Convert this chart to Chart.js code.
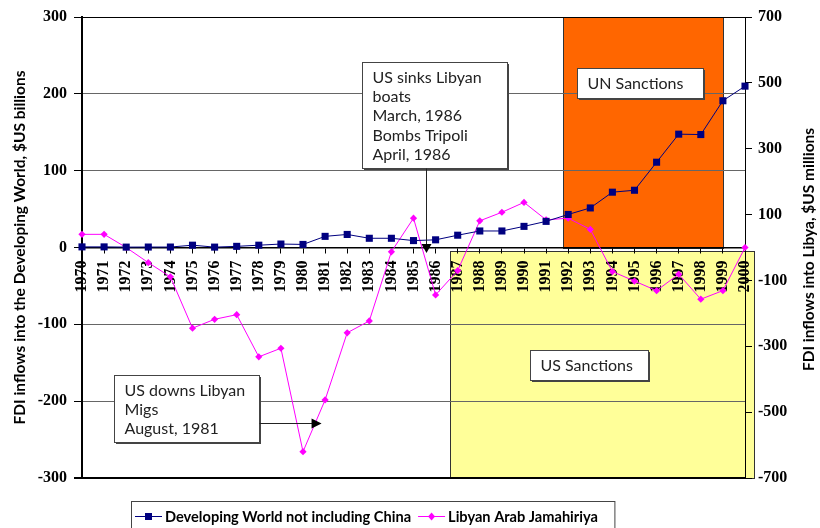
<!DOCTYPE html>
<html>
<head>
<meta charset="utf-8">
<title>FDI inflows: Developing World and Libya</title>
<script src="https://cdn.jsdelivr.net/npm/chart.js@4.4.1/dist/chart.umd.min.js"></script>
<style>
  html, body { margin: 0; padding: 0; background: #fff; }
  #wrap { width: 820px; height: 528px; }
</style>
</head>
<body>
<div id="wrap"><canvas id="fdiChart" width="820" height="528"></canvas></div>
<script>
const years = ['1970', '1971', '1972', '1973', '1974', '1975', '1976', '1977', '1978', '1979',
  '1980', '1981', '1982', '1983', '1984', '1985', '1986', '1987', '1988', '1989',
  '1990', '1991', '1992', '1993', '1994', '1995', '1996', '1997', '1998', '1999', '2000'];

// $US billions (left axis)
const developingWorld = [0.8, 0.8, 0.5, 0.6, 0.6, 3, 0.5, 1.5, 3, 4.5,
  4, 14.5, 17, 12, 12, 9, 10, 16, 21.5, 21.5,
  27.5, 34, 43, 51.5, 72, 74.5, 111, 147.5, 147, 191, 210];

// $US millions (right axis)
const libya = [40, 40, 0, -46, -89, -245, -218, -204, -332, -306,
  -620, -463, -259, -223, -13, 89, -144, -70, 81, 107,
  137, 84, 89, 55, -73, -102, -131, -81, -157, -131, 0];

const leftRange = [-300, 300, 100];
const rightRange = [-700, 700, 200];

// shaded periods, in years and left-axis units
const sanctionSpans = [
  { from: 1991.75, to: 1999, top: 300, bottom: 0, fill: '#FF6600' },
  { from: 1986.66, to: 2000.4, top: -4, bottom: -300, fill: '#FFFF99' }
];

// text boxes: corners in years / left-axis units
const labelBoxes = [
  { lines: ['UN Sanctions'], x1: 1992.4, x2: 1998.1, y1: 233, y2: 194 },
  { lines: ['US Sanctions'], x1: 1990.28, x2: 1995.6, y1: -134, y2: -172 },
  { lines: ['US sinks Libyan', 'boats', 'March, 1986', 'Bombs Tripoli', 'April, 1986'],
    x1: 1982.69, x2: 1989.23, y1: 241.6, y2: 103.2,
    arrow: { dir: 'down', x: 1985.56, to: -7 } },
  { lines: ['US downs Libyan', 'Migs', 'August, 1981'],
    x1: 1971.43, x2: 1978.0, y1: -165.3, y2: -253.4,
    arrow: { dir: 'right', y: -227.8, to: 1980.84 } }
];

const navy = '#000080';
const magenta = '#FF00FF';
const textFont = 'Lato, "Open Sans", sans-serif';
const tickFont = { family: '"Liberation Serif", serif', size: 16, weight: 'bold' };

const firstYear = Number(years[0]);

const notesPlugin = {
  id: 'notes',
  beforeDraw(chart) {
    const { ctx, scales: { x, y } } = chart;
    ctx.save();
    ctx.fillStyle = '#fff';
    ctx.fillRect(0, 0, chart.width, chart.height);
    sanctionSpans.forEach(s => {
      const x1 = Math.round(x.getPixelForValue(s.from - firstYear)) + 0.5;
      const x2 = Math.round(x.getPixelForValue(s.to - firstYear)) + 0.5;
      const y1 = Math.round(y.getPixelForValue(s.top)) + 0.5;
      const y2 = Math.round(y.getPixelForValue(s.bottom)) + 0.5;
      ctx.fillStyle = s.fill;
      ctx.fillRect(x1, y1, x2 - x1, y2 - y1);
      ctx.strokeStyle = '#333';
      ctx.lineWidth = 1;
      ctx.strokeRect(x1, y1, x2 - x1, y2 - y1);
    });
    ctx.restore();
  },
  afterDatasetsDraw(chart) {
    const { ctx, scales: { x, y } } = chart;
    ctx.save();
    labelBoxes.forEach(b => {
      const x1 = Math.round(x.getPixelForValue(b.x1 - firstYear)) + 0.5;
      const x2 = Math.round(x.getPixelForValue(b.x2 - firstYear)) + 0.5;
      const y1 = Math.round(y.getPixelForValue(b.y1)) + 0.5;
      const y2 = Math.round(y.getPixelForValue(b.y2)) + 0.5;
      // slight drop shadow, then the box
      ctx.fillStyle = '#444';
      ctx.fillRect(x1 + 1.5, y1 + 1.5, x2 - x1, y2 - y1);
      ctx.fillStyle = '#fff';
      ctx.fillRect(x1, y1, x2 - x1, y2 - y1);
      ctx.strokeStyle = '#444';
      ctx.lineWidth = 1;
      ctx.strokeRect(x1, y1, x2 - x1, y2 - y1);

      ctx.fillStyle = '#222';
      ctx.font = '16px ' + textFont;
      ctx.textAlign = 'left';
      ctx.textBaseline = 'middle';
      const lh = 19.3;
      const startY = b.lines.length === 1 ? (y1 + y2) / 2 : y1 + 15;
      b.lines.forEach((t, i) => ctx.fillText(t, x1 + 10, startY + i * lh));

      if (b.arrow) {
        ctx.strokeStyle = '#222';
        ctx.fillStyle = '#000';
        ctx.lineWidth = 1;
        ctx.beginPath();
        if (b.arrow.dir === 'down') {
          const ax = Math.round(x.getPixelForValue(b.arrow.x - firstYear)) + 0.5;
          const tip = y.getPixelForValue(b.arrow.to);
          ctx.moveTo(ax, y2);
          ctx.lineTo(ax, tip - 8);
          ctx.stroke();
          ctx.beginPath();
          ctx.moveTo(ax - 5, tip - 9);
          ctx.lineTo(ax + 5, tip - 9);
          ctx.lineTo(ax, tip);
        } else {
          const ay = Math.round(y.getPixelForValue(b.arrow.y)) + 0.5;
          const tip = x.getPixelForValue(b.arrow.to - firstYear);
          ctx.moveTo(x2, ay);
          ctx.lineTo(tip - 9, ay);
          ctx.stroke();
          ctx.beginPath();
          ctx.moveTo(tip - 10, ay - 5);
          ctx.lineTo(tip - 10, ay + 5);
          ctx.lineTo(tip, ay);
        }
        ctx.closePath();
        ctx.fill();
      }
    });
    ctx.restore();
  },
  afterDraw(chart) {
    const { ctx, chartArea } = chart;
    ctx.save();

    // right axis title, reading bottom to top like the left one
    ctx.translate(809, (chartArea.top + chartArea.bottom) / 2 + 2);
    ctx.rotate(-Math.PI / 2);
    ctx.font = 'bold 15.5px ' + textFont;
    ctx.fillStyle = '#000';
    ctx.textAlign = 'center';
    ctx.textBaseline = 'middle';
    ctx.fillText('FDI inflows into Libya, $US millions', 0, 0);
    ctx.setTransform(1, 0, 0, 1, 0, 0);

    // legend
    const ly = 516;
    let lx = 135;
    const boxLeft = 131.5;
    ctx.font = 'bold 14.6px ' + textFont;
    ctx.textAlign = 'left';
    ctx.textBaseline = 'middle';
    chart.data.datasets.forEach(ds => {
      ctx.strokeStyle = ds.borderColor;
      ctx.lineWidth = 1;
      ctx.beginPath();
      ctx.moveTo(lx, ly + 0.5);
      ctx.lineTo(lx + 27, ly + 0.5);
      ctx.stroke();
      ctx.fillStyle = ds.borderColor;
      const mx = lx + 13.5;
      ctx.beginPath();
      if (ds.pointStyle === 'rect') {
        ctx.rect(mx - 3.5, ly - 3, 7, 7);
      } else {
        ctx.moveTo(mx, ly - 3.5);
        ctx.lineTo(mx + 3.5, ly + 0.5);
        ctx.lineTo(mx, ly + 4.5);
        ctx.lineTo(mx - 3.5, ly + 0.5);
        ctx.closePath();
      }
      ctx.fill();
      ctx.fillStyle = '#000';
      ctx.fillText(ds.label, lx + 30, ly + 1);
      lx += 30 + ctx.measureText(ds.label).width + 7;
    });
    ctx.strokeStyle = '#444';
    ctx.lineWidth = 1;
    ctx.strokeRect(boxLeft, 501.5, lx + 10 - boxLeft, 40);
    ctx.restore();
  }
};

new Chart(document.getElementById('fdiChart'), {
  type: 'line',
  data: {
    labels: years,
    datasets: [{
      label: 'Developing World not including China',
      data: developingWorld,
      yAxisID: 'y',
      borderColor: navy,
      backgroundColor: navy,
      borderWidth: 1,
      pointStyle: 'rect',
      pointRadius: 5,
      pointBorderWidth: 0,
      tension: 0
    }, {
      label: 'Libyan Arab Jamahiriya',
      data: libya,
      yAxisID: 'y1',
      borderColor: magenta,
      backgroundColor: magenta,
      borderWidth: 1,
      pointStyle: 'rectRot',
      pointRadius: 3.6,
      pointBorderWidth: 0,
      tension: 0
    }]
  },
  options: {
    responsive: false,
    animation: false,
    devicePixelRatio: 1,
    layout: { padding: { top: 17, bottom: 50, left: 0, right: 0 } },
    plugins: {
      legend: { display: false },
      tooltip: { enabled: false }
    },
    scales: {
      x: {
        type: 'category',
        offset: false,
        position: { y: 0 },
        grid: { drawOnChartArea: false, drawTicks: true, tickLength: 5, color: '#000' },
        border: { display: true, color: '#000', width: 1.5 },
        ticks: {
          autoSkip: false,
          minRotation: 90,
          maxRotation: 90,
          padding: 8,
          color: '#000',
          font: tickFont
        }
      },
      y: {
        position: 'left',
        min: leftRange[0],
        max: leftRange[1],
        ticks: { stepSize: leftRange[2], padding: 7, color: '#000', font: tickFont },
        grid: {
          tickLength: 8,
          tickColor: '#000',
          color: c => {
            const v = c.tick && c.tick.value;
            if (v === 0) return 'rgba(0,0,0,0)';
            if (v === 300 || v === -300) return '#000';
            return '#666';
          },
          lineWidth: c => (c.tick && c.tick.value === -300 ? 2 : 1)
        },
        border: { display: true, color: '#000', width: 2 },
        title: {
          display: true,
          text: 'FDI inflows into the Developing World, $US billions',
          color: '#000',
          font: { family: textFont, size: 15.5, weight: 'bold' },
          padding: { top: 11, bottom: 0 }
        },
        afterFit: s => { s.width = 82; }
      },
      y1: {
        position: 'right',
        min: rightRange[0],
        max: rightRange[1],
        ticks: { stepSize: rightRange[2], padding: 6, color: '#000', font: tickFont },
        grid: { drawOnChartArea: false, tickLength: 7, color: '#000' },
        border: { display: true, color: '#000', width: 1 },
        afterFit: s => { s.width = 75; }
      }
    }
  },
  plugins: [notesPlugin]
});
</script>
</body>
</html>
